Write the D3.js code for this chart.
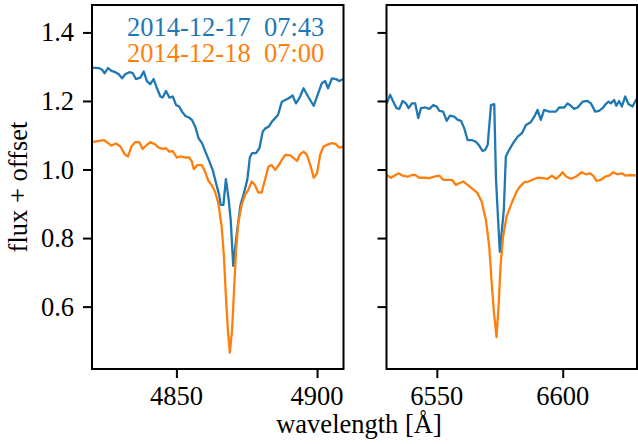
<!DOCTYPE html>
<html>
<head>
<meta charset="utf-8">
<script src="https://cdn.jsdelivr.net/npm/d3@7"></script>
<style>
  html, body { margin: 0; padding: 0; background: #fff; }
  svg { display: block; }
</style>
</head>
<body>
<svg id="chart" width="638" height="444"></svg>
<script>
// ---------------- data ----------------
const legendLabels = ["2014-12-17  07:43", "2014-12-18  07:00"];
const seriesColors = ["#1f77b4", "#ff7f0e"];

const yTicks = [0.6, 0.8, 1.0, 1.2, 1.4];
const xTicksLeft = [4850, 4900];
const xTicksRight = [6550, 6600];

// H-beta region, 2014-12-17 (blue)
const hbWave1 = [4820.0,4822.4,4823.6,4824.5,4825.7,4826.9,4828.3,4829.5,4830.7,4831.8,4833.3,4834.5,4835.6,4837.2,4838.4,4839.5,4840.7,4841.9,4843.1,4844.3,4845.1,4846.3,4847.5,4848.7,4849.9,4851.0,4852.0,4853.2,4854.6,4855.5,4856.7,4857.9,4859.1,4860.3,4861.5,4862.9,4864.1,4865.2,4865.7,4866.7,4867.6,4868.6,4869.3,4870.2,4871.2,4872.0,4872.8,4874.0,4875.2,4876.1,4876.9,4878.3,4879.5,4880.7,4881.6,4882.8,4884.0,4885.1,4886.1,4887.5,4888.7,4889.9,4891.3,4892.5,4893.7,4895.2,4896.8,4898.8,4900.3,4901.7,4902.9,4903.9,4905.3,4906.7,4907.9,4909.4];
const hbFlux1 = [1.297,1.296,1.291,1.281,1.296,1.288,1.284,1.278,1.266,1.278,1.284,1.281,1.264,1.268,1.286,1.258,1.249,1.264,1.237,1.213,1.210,1.229,1.210,1.213,1.188,1.184,1.169,1.156,1.151,1.145,1.125,1.091,1.077,1.052,1.028,0.999,0.960,0.926,0.897,0.897,0.972,0.911,0.853,0.719,0.795,0.848,0.897,0.931,0.970,1.035,1.048,1.048,1.062,1.111,1.120,1.125,1.140,1.150,1.159,1.198,1.203,1.208,1.216,1.193,1.208,1.237,1.213,1.186,1.220,1.252,1.258,1.237,1.266,1.264,1.258,1.264];

// H-beta region, 2014-12-18 (orange)
const hbWave2 = [4820.0,4822.1,4824.2,4825.7,4826.9,4828.5,4830.1,4831.6,4832.8,4834.0,4835.4,4836.8,4838.0,4839.2,4840.7,4842.3,4843.7,4845.1,4846.3,4847.5,4848.7,4850.2,4851.4,4853.2,4854.6,4855.5,4856.2,4857.4,4859.0,4860.2,4861.3,4862.5,4863.7,4864.9,4866.1,4866.9,4867.6,4868.3,4869.0,4869.8,4870.5,4871.2,4872.0,4873.2,4874.4,4875.5,4876.8,4877.9,4879.1,4880.3,4881.5,4882.7,4883.9,4885.1,4886.4,4887.5,4888.7,4890.5,4891.7,4892.9,4894.0,4895.2,4896.4,4897.6,4898.8,4900.0,4901.1,4902.3,4904.1,4905.5,4906.7,4907.9,4909.4];
const hbFlux2 = [1.080,1.083,1.086,1.077,1.070,1.076,1.067,1.045,1.038,1.067,1.080,1.080,1.060,1.070,1.080,1.074,1.064,1.060,1.062,1.052,1.054,1.035,1.038,1.035,1.035,1.023,1.001,1.013,1.013,0.994,0.968,0.955,0.936,0.902,0.833,0.746,0.629,0.532,0.466,0.532,0.649,0.765,0.843,0.897,0.926,0.940,0.965,0.955,0.933,0.933,0.970,1.008,1.013,0.999,1.013,1.028,1.043,1.041,1.033,1.025,1.045,1.052,1.043,1.013,0.976,0.989,1.043,1.067,1.074,1.077,1.074,1.064,1.067];

// H-alpha region, 2014-12-17 (blue)
const haWave1 = [6530.0,6531.4,6532.7,6534.0,6535.1,6536.4,6537.7,6538.8,6540.1,6541.4,6542.6,6543.7,6545.4,6547.0,6548.6,6549.9,6551.0,6552.5,6553.9,6555.2,6556.9,6558.3,6559.6,6560.9,6562.2,6563.9,6565.5,6566.8,6568.2,6569.2,6570.2,6571.5,6572.8,6573.5,6575.0,6576.6,6577.4,6578.7,6580.3,6582.1,6583.8,6585.4,6587.3,6588.7,6590.0,6591.3,6592.6,6594.6,6597.3,6598.6,6600.6,6601.9,6603.2,6604.5,6605.9,6607.9,6609.8,6611.2,6612.9,6614.4,6615.8,6617.1,6618.2,6619.1,6620.4,6621.3,6622.4,6623.5,6624.8,6626.1,6627.7,6629.5];
const haFlux1 = [1.191,1.218,1.198,1.179,1.177,1.200,1.193,1.179,1.193,1.193,1.150,1.179,1.181,1.177,1.188,1.184,1.171,1.169,1.142,1.157,1.154,1.145,1.142,1.120,1.086,1.086,1.081,1.070,1.054,1.057,1.072,1.188,1.191,0.970,0.760,0.882,1.038,1.057,1.077,1.096,1.106,1.130,1.138,1.154,1.174,1.145,1.174,1.169,1.169,1.181,1.181,1.193,1.186,1.177,1.181,1.198,1.200,1.193,1.169,1.171,1.179,1.191,1.198,1.193,1.203,1.186,1.200,1.184,1.213,1.191,1.184,1.208];

// H-alpha region, 2014-12-18 (orange)
const haWave2 = [6530.0,6531.8,6533.1,6534.8,6536.4,6538.4,6540.1,6541.4,6543.0,6545.0,6547.0,6549.0,6551.0,6552.5,6554.3,6556.0,6557.6,6558.9,6560.5,6562.2,6563.9,6566.2,6567.8,6569.5,6570.8,6571.7,6572.7,6573.7,6574.5,6575.3,6576.3,6577.7,6579.7,6581.7,6583.0,6584.7,6586.4,6588.0,6590.0,6592.0,6594.0,6595.7,6597.3,6598.8,6599.9,6601.5,6603.2,6605.2,6607.6,6609.2,6610.8,6612.1,6613.4,6615.1,6616.8,6618.4,6620.0,6621.7,6623.5,6625.0,6627.0,6629.5];
const haFlux2 = [0.984,0.976,0.982,0.989,0.982,0.979,0.984,0.984,0.976,0.976,0.975,0.979,0.982,0.970,0.970,0.970,0.955,0.960,0.965,0.955,0.945,0.931,0.906,0.853,0.775,0.678,0.581,0.511,0.600,0.717,0.804,0.863,0.902,0.936,0.950,0.963,0.965,0.970,0.976,0.975,0.973,0.982,0.973,0.982,0.992,0.979,0.973,0.979,0.992,0.986,0.989,0.982,0.967,0.970,0.979,0.982,0.992,0.986,0.989,0.982,0.984,0.982];

// ---------------- layout ----------------
const svg = d3.select("#chart");
const plotTop = 5, plotBottom = 369;
const serif = "Liberation Serif";
const fontSize = "26.5px";
const panels = [
  { x0: 92, x1: 343.5, domain: [4820, 4909.4], ticks: xTicksLeft, labels: true,
    series: [[hbWave1, hbFlux1], [hbWave2, hbFlux2]] },
  { x0: 386.5, x1: 637, domain: [6530, 6629.5], ticks: xTicksRight, labels: false,
    series: [[haWave1, haFlux1], [haWave2, haFlux2]] }
];
const y = d3.scaleLinear().domain([0.418, 1.480]).range([plotBottom, plotTop]);

function addText(sel) {
  return sel.append("text")
    .attr("font-family", serif)
    .attr("font-size", fontSize)
    .style("font-family", serif)
    .style("font-size", fontSize);
}

panels.forEach((p, i) => {
  const x = d3.scaleLinear().domain(p.domain).range([p.x0, p.x1]);
  const clipId = "clip" + i;
  svg.append("clipPath").attr("id", clipId)
    .append("rect").attr("x", p.x0).attr("y", plotTop).attr("width", p.x1 - p.x0).attr("height", plotBottom - plotTop);

  const line = d3.line().x(d => x(d[0])).y(d => y(d[1]));
  p.series.forEach((s, k) => {
    const pts = s[0].map((w, j) => [w, s[1][j]]);
    svg.append("path").datum(pts)
      .attr("clip-path", `url(#${clipId})`)
      .attr("fill", "none")
      .attr("stroke", seriesColors[k])
      .attr("stroke-width", 2.3)
      .attr("stroke-linejoin", "round")
      .attr("d", line);
  });

  // x axis ticks (lines from d3 axis)
  const gx = svg.append("g").attr("transform", `translate(0,${plotBottom})`)
    .call(d3.axisBottom(x).tickValues(p.ticks).tickSize(9).tickSizeOuter(0).tickFormat(""));
  gx.select(".domain").remove();
  gx.selectAll(".tick text").remove();
  gx.selectAll(".tick line").attr("stroke", "#000").attr("stroke-width", 2);
  // x tick labels
  p.ticks.forEach(t => {
    addText(svg).attr("x", x(t)).attr("y", 405).attr("text-anchor", "middle")
      .attr("fill", "#000").text(d3.format("d")(t));
  });

  // y axis ticks
  const gy = svg.append("g").attr("transform", `translate(${p.x0},0)`)
    .call(d3.axisLeft(y).tickValues(yTicks).tickSize(9).tickSizeOuter(0).tickFormat(""));
  gy.select(".domain").remove();
  gy.selectAll(".tick text").remove();
  gy.selectAll(".tick line").attr("stroke", "#000").attr("stroke-width", 2);
  if (p.labels) {
    yTicks.forEach(t => {
      addText(svg).attr("x", p.x0 - 18).attr("y", y(t) + 9).attr("text-anchor", "end")
        .attr("fill", "#000").text(d3.format(".1f")(t));
    });
  }

  // frame
  svg.append("rect").attr("x", p.x0).attr("y", plotTop)
    .attr("width", p.x1 - p.x0).attr("height", plotBottom - plotTop)
    .attr("fill", "none").attr("stroke", "#000").attr("stroke-width", 2);
});

// legend text
legendLabels.forEach((t, k) => {
  addText(svg).attr("x", 127).attr("y", 36 + k * 26)
    .attr("fill", seriesColors[k])
    .style("white-space", "pre").text(t);
});

// axis labels
addText(svg).attr("transform", `translate(27,${(plotTop + plotBottom) / 2}) rotate(-90)`)
  .attr("text-anchor", "middle").attr("fill", "#000")
  .text("flux + offset");
addText(svg).attr("x", 359).attr("y", 433)
  .attr("text-anchor", "middle").attr("fill", "#000")
  .text("wavelength [Å]");
</script>
</body>
</html>
